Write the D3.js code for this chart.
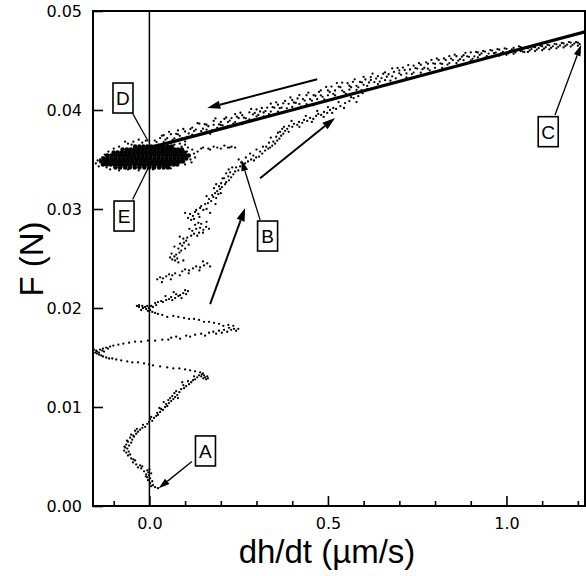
<!DOCTYPE html>
<html>
<head>
<meta charset="utf-8">
<script src="https://cdn.jsdelivr.net/npm/d3@7"></script>
<style>
  body { margin: 0; background: #fff; }
  svg { display: block; }
</style>
</head>
<body>
<svg id="chart" width="586" height="576"></svg>
<script>
// ---- measured trajectory: F (N) against dh/dt (um/s) ----

// rise from A, wandering around dh/dt = 0
const riseFromA = [
  [0.024,0.0018],[0.016,0.0019],[0.010,0.0021],[0.005,0.0020],[0.002,0.0023],[0.008,0.0025],[-0.004,0.0026],
  [0.002,0.0028],[-0.006,0.0029],[-0.001,0.0031],[-0.009,0.0032],[0.005,0.0033],[-0.015,0.0035],[-0.006,0.0036],
  [-0.010,0.0030],[-0.003,0.0034],[0.000,0.0037],[-0.020,0.0040],[-0.045,0.0047],[-0.058,0.0055],[-0.070,0.0060],
  [-0.023,0.0038],[-0.032,0.0039],[-0.026,0.0041],[-0.037,0.0042],[-0.046,0.0044],[-0.040,0.0046],[-0.051,0.0048],
  [-0.060,0.0051],[-0.054,0.0052],[-0.065,0.0054],[-0.071,0.0056],[-0.062,0.0058],[-0.068,0.0059],[-0.057,0.0061],
  [-0.065,0.0062],[-0.051,0.0064],[-0.060,0.0065],[-0.048,0.0067],[-0.054,0.0069],[-0.043,0.0070],[-0.051,0.0072],
  [-0.063,0.0066],[-0.045,0.0071],[-0.035,0.0078],
  [-0.037,0.0073],[-0.032,0.0075],[-0.040,0.0076],[-0.026,0.0077],[-0.020,0.0079],[-0.012,0.0080],[-0.018,0.0082],
  [-0.006,0.0083],[-0.001,0.0085],[0.008,0.0086],[0.002,0.0088],[0.013,0.0089],[0.019,0.0091],[0.024,0.0092],
  [0.005,0.0090],[0.028,0.0099],[0.040,0.0105],[0.058,0.0109],[0.080,0.0109],[0.092,0.0125],
  [0.022,0.0094],[0.030,0.0095],[0.038,0.0097],[0.033,0.0098],[0.044,0.0100],[0.050,0.0101],[0.047,0.0103],
  [0.055,0.0104],[0.061,0.0106],[0.053,0.0107],[0.067,0.0108],[0.072,0.0110],[0.064,0.0111],[0.078,0.0112],
  [0.070,0.0114],[0.084,0.0115],[0.075,0.0116],[0.089,0.0118],[0.097,0.0119],[0.103,0.0121],[0.095,0.0122],
  [0.111,0.0123],[0.117,0.0125],[0.108,0.0126],[0.122,0.0127],[0.128,0.0128],[0.134,0.0130],[0.125,0.0131],
  [0.139,0.0132],[0.145,0.0131],[0.151,0.0129],[0.156,0.0130],[0.153,0.0132],[0.162,0.0131],[0.159,0.0128],
  [0.164,0.0129],[0.147,0.0133],[0.150,0.0134]
];

// large swings left and right between F = 0.013 and 0.020
const oscillation = [
  [0.142,0.0135],[0.128,0.0136],[0.114,0.0137],[0.100,0.0138],[0.084,0.0139],[0.067,0.0139],[0.050,0.0140],
  [0.030,0.0141],[0.010,0.0142],[-0.001,0.0143],[-0.015,0.0144],[-0.032,0.0145],[-0.048,0.0145],[-0.062,0.0146],
  [-0.079,0.0147],[-0.093,0.0148],[-0.104,0.0149],[-0.113,0.0149],[-0.121,0.0150],[-0.130,0.0151],[-0.135,0.0152],
  [-0.141,0.0153],[-0.147,0.0154],[-0.152,0.0155],[-0.149,0.0157],[-0.155,0.0158],[-0.147,0.0156],[-0.141,0.0155],
  [-0.138,0.0158],[-0.132,0.0157],[-0.127,0.0156],[-0.130,0.0159],[-0.121,0.0160],[-0.116,0.0159],[-0.110,0.0161],
  [-0.101,0.0162],[-0.087,0.0163],[-0.073,0.0164],[-0.057,0.0165],[-0.040,0.0166],[-0.023,0.0166],[-0.004,0.0167],
  [0.016,0.0167],[0.036,0.0168],[0.053,0.0168],[0.061,0.0170],[0.075,0.0171],[0.086,0.0169],[0.103,0.0172],
  [0.114,0.0171],[0.128,0.0173],[0.145,0.0174],[0.156,0.0172],[0.167,0.0175],[0.179,0.0176],[0.187,0.0174],
  [0.195,0.0177],[0.203,0.0175],[0.209,0.0178],[0.218,0.0176],[0.223,0.0180],[0.229,0.0178],[0.237,0.0179],
  [0.243,0.0177],[0.249,0.0179],[0.235,0.0182],[0.221,0.0183],[0.207,0.0182],[0.195,0.0184],[0.181,0.0185],
  [0.167,0.0186],[0.153,0.0186],[0.139,0.0188],[0.125,0.0189],[0.111,0.0189],[0.097,0.0190],[0.081,0.0191],
  [0.067,0.0192],[0.050,0.0191],[0.036,0.0193],[0.024,0.0194],[0.016,0.0195],[0.008,0.0196],[0.002,0.0198],
  [-0.004,0.0197],[-0.009,0.0199],[-0.018,0.0200],[-0.023,0.0198],[-0.029,0.0201],[-0.035,0.0202],[-0.029,0.0203],
  [-0.020,0.0202],[-0.012,0.0201],[-0.006,0.0202],[-0.001,0.0200],[0.005,0.0202],[0.010,0.0201],[0.019,0.0203],
  [0.016,0.0205]
];

// climb through B towards the upper branch
const climbToB = [
  [0.024,0.0206],[0.033,0.0207],[0.038,0.0206],[0.047,0.0208],[0.055,0.0209],[0.064,0.0208],[0.061,0.0211],
  [0.072,0.0210],[0.081,0.0212],[0.075,0.0214],[0.086,0.0213],[0.095,0.0215],[0.103,0.0214],[0.108,0.0217],
  [0.100,0.0218],[0.022,0.0229],[0.030,0.0231],[0.038,0.0230],[0.047,0.0232],[0.055,0.0234],[0.064,0.0233],
  [0.072,0.0235],[0.092,0.0237],[0.100,0.0239],[0.111,0.0238],[0.122,0.0240],[0.131,0.0242],[0.142,0.0241],
  [0.153,0.0243],[0.162,0.0245],[0.081,0.0246],[0.072,0.0248],[0.064,0.0249],[0.058,0.0251],[0.070,0.0252],
  [0.078,0.0250],[0.075,0.0254],[0.084,0.0256],[0.089,0.0258],[0.081,0.0260],[0.092,0.0263],[0.086,0.0265],
  [0.097,0.0266],[0.103,0.0268],[0.095,0.0270],[0.106,0.0271],[0.117,0.0273],[0.125,0.0275],[0.134,0.0273],
  [0.139,0.0276],[0.120,0.0278],[0.131,0.0280],[0.142,0.0281],[0.151,0.0279],[0.159,0.0282],[0.167,0.0280],
  [0.128,0.0284],[0.137,0.0286],[0.145,0.0285],[0.117,0.0289],[0.108,0.0291],[0.122,0.0293],[0.114,0.0295],
  [0.128,0.0297],[0.137,0.0295],[0.131,0.0299],[0.142,0.0301],[0.151,0.0299],[0.145,0.0303],[0.156,0.0305],
  [0.164,0.0306],[0.173,0.0308],[0.167,0.0310],[0.179,0.0312],[0.187,0.0311],[0.176,0.0314],[0.184,0.0316],
  [0.193,0.0315],[0.190,0.0318],[0.198,0.0320],[0.181,0.0321],[0.195,0.0323],[0.203,0.0322],[0.212,0.0325],
  [0.201,0.0326],[0.215,0.0327],[0.223,0.0329],[0.209,0.0331],[0.221,0.0333],[0.229,0.0332],[0.235,0.0335],
  [0.226,0.0337],[0.240,0.0338],[0.249,0.0339],[0.243,0.0342],[0.254,0.0343],[0.263,0.0345],[0.257,0.0347],
  [0.268,0.0346],[0.276,0.0348],[0.285,0.0350],[0.293,0.0349],[0.299,0.0352],[0.291,0.0354],[0.307,0.0353],
  [0.316,0.0356],[0.310,0.0358],[0.324,0.0359],[0.333,0.0361],[0.327,0.0363],[0.338,0.0362],[0.344,0.0364],
  [0.352,0.0366],[0.347,0.0368],[0.358,0.0369],[0.364,0.0371],[0.355,0.0373],[0.369,0.0374],[0.375,0.0376],
  [0.366,0.0378],[0.380,0.0379],[0.386,0.0381],[0.377,0.0383],[0.391,0.0384],[0.400,0.0383],[0.405,0.0386],
  [0.414,0.0385],[0.419,0.0388],[0.428,0.0387],[0.433,0.0390],[0.442,0.0389],[0.450,0.0392],[0.459,0.0391],
  [0.467,0.0394],[0.473,0.0396],[0.481,0.0395],[0.489,0.0398],[0.498,0.0397],[0.506,0.0400],[0.515,0.0402],
  [0.523,0.0401],[0.535,0.0404],[0.548,0.0407],[0.560,0.0409],[0.572,0.0412],[0.585,0.0414],[0.597,0.0417]
];

// further scattered readings along the climb
const climbScatter = [
  [0.045,0.0212],[0.068,0.0216],[0.090,0.0210],[0.035,0.0226],[0.060,0.0229],[0.085,0.0233],[0.110,0.0235],
  [0.140,0.0238],[0.170,0.0242],[0.150,0.0247],[0.095,0.0248],[0.062,0.0255],[0.100,0.0260],[0.070,0.0262],
  [0.110,0.0264],[0.085,0.0272],[0.112,0.0280],[0.150,0.0276],[0.160,0.0287],[0.125,0.0290],[0.100,0.0296],
  [0.140,0.0292],[0.160,0.0300],[0.170,0.0296],[0.185,0.0305],[0.160,0.0313],[0.200,0.0316],[0.187,0.0325],
  [0.205,0.0331],[0.215,0.0336],[0.232,0.0342],[0.222,0.0340],[0.250,0.0350],[0.270,0.0352],[0.282,0.0356],
  [0.300,0.0360],[0.318,0.0363],[0.335,0.0367],[0.340,0.0372],[0.360,0.0377],[0.372,0.0381],[0.390,0.0378],
  [0.398,0.0389],[0.420,0.0383],[0.438,0.0394],[0.455,0.0388],[0.470,0.0399],[0.488,0.0393],[0.500,0.0403],
  [0.512,0.0397],[0.530,0.0408],[0.545,0.0402],[0.565,0.0413],[0.580,0.0408],[0.594,0.0420],[0.610,0.0421]
];

// upper branch between the plateau and C
const upperBranch = [
  [0.02,0.03676],[0.02,0.03616],[0.03,0.03716],[0.04,0.03675],[0.04,0.03745],[0.05,0.03715],[0.06,0.03665],
  [0.06,0.03755],[0.07,0.03714],[0.08,0.03794],[0.08,0.03754],[0.09,0.03713],[0.10,0.03783],[0.10,0.03683],
  [0.11,0.03763],[0.12,0.03822],[0.12,0.03752],[0.13,0.03802],[0.14,0.03752],[0.14,0.03862],[0.15,0.03811],
  [0.16,0.03851],[0.16,0.03801],[0.17,0.03760],[0.18,0.03850],[0.18,0.03890],[0.19,0.03820],[0.20,0.03879],
  [0.20,0.03849],[0.21,0.03909],[0.22,0.03838],[0.22,0.03878],[0.23,0.03918],[0.24,0.03878],[0.24,0.03958],
  [0.25,0.03917],[0.26,0.03857],[0.26,0.03947],[0.27,0.03916],[0.28,0.03976],[0.28,0.03906],[0.29,0.03956],
  [0.30,0.04005],[0.30,0.03935],[0.31,0.03985],[0.32,0.03935],[0.32,0.03975],[0.33,0.04024],[0.34,0.03984],
  [0.34,0.04064],[0.35,0.04023],[0.36,0.03983],[0.36,0.04053],[0.37,0.04023],[0.38,0.04092],[0.38,0.03982],
  [0.39,0.04062],[0.40,0.04031],[0.40,0.04101],[0.41,0.04071],[0.42,0.04151],[0.42,0.04061],[0.43,0.04110],
  [0.44,0.04060],[0.44,0.04150],[0.45,0.04109],[0.46,0.04149],[0.46,0.04049],[0.47,0.04109],[0.48,0.04198],
  [0.48,0.04148],[0.49,0.04108],[0.50,0.04198],[0.50,0.04148],[0.51,0.04237],[0.52,0.04147],[0.52,0.04197],
  [0.53,0.04236],[0.54,0.04196],[0.54,0.04276],[0.55,0.04166],[0.56,0.04245],[0.56,0.04205],[0.57,0.04285],
  [0.58,0.04244],[0.58,0.04204],[0.59,0.04284],[0.60,0.04334],[0.60,0.04254],[0.61,0.04243],[0.62,0.04303],
  [0.62,0.04333],[0.63,0.04282],[0.64,0.04262],[0.64,0.04342],[0.65,0.04322],[0.66,0.04381],[0.66,0.04301],
  [0.67,0.04361],[0.68,0.04340],[0.68,0.04420],[0.69,0.04320],[0.70,0.04400],[0.70,0.04370],[0.71,0.04429],
  [0.72,0.04369],[0.72,0.04329],[0.73,0.04409],[0.74,0.04448],[0.74,0.04378],[0.75,0.04418],[0.76,0.04377],
  [0.76,0.04457],[0.77,0.04427],[0.78,0.04467],[0.78,0.04417],[0.79,0.04506],[0.80,0.04466],[0.80,0.04426],
  [0.81,0.04505],[0.82,0.04465],[0.82,0.04425],[0.83,0.04505],[0.84,0.04544],[0.84,0.04474],[0.85,0.04504],
  [0.86,0.04473],[0.86,0.04543],[0.87,0.04513],[0.88,0.04553],[0.88,0.04503],[0.89,0.04542],[0.90,0.04502],
  [0.90,0.04582],[0.91,0.04541],[0.92,0.04581],[0.92,0.04531],[0.93,0.04571],[0.94,0.04530],[0.94,0.04590],
  [0.95,0.04570],[0.96,0.04600],[0.96,0.04540],[0.97,0.04579],[0.98,0.04609],[0.98,0.04549],[0.99,0.04588],
  [1.00,0.04618],[1.00,0.04558],[1.01,0.04598],[1.02,0.04567],[1.02,0.04627],[1.03,0.04607],[1.04,0.04596],
  [1.04,0.04636],[1.05,0.04586],[1.06,0.04626],[1.06,0.04586],[1.07,0.04615],[1.08,0.04595],[1.08,0.04635],
  [1.09,0.04624],[1.10,0.04604],[1.10,0.04644],[1.11,0.04634],[1.12,0.04613],[1.12,0.04653],[1.13,0.04643],
  [1.14,0.04623],[1.14,0.04663],[1.15,0.04652],[1.16,0.04632],[1.16,0.04672],[1.17,0.04661],[1.18,0.04641],
  [1.18,0.04681],[1.19,0.04671],[1.20,0.04650],[1.20,0.04680],[1.205,0.04665]
];

// interleaved readings on the same branch
const upperBranchFill = [
  [0.015,0.03691],[0.025,0.03651],[0.035,0.03741],[0.045,0.03700],[0.055,0.03780],[0.065,0.03699],[0.075,0.03759],
  [0.085,0.03739],[0.095,0.03808],[0.105,0.03728],[0.115,0.03808],[0.125,0.03787],[0.135,0.03867],[0.145,0.03786],
  [0.155,0.03856],[0.165,0.03836],[0.175,0.03795],[0.185,0.03915],[0.195,0.03854],[0.205,0.03844],[0.215,0.03924],
  [0.225,0.03893],[0.235,0.03863],[0.245,0.03932],[0.255,0.03972],[0.265,0.03922],[0.275,0.03891],[0.285,0.04011],
  [0.295,0.03970],[0.305,0.03950],[0.315,0.04020],[0.325,0.03989],[0.335,0.03959],[0.345,0.04029],[0.355,0.04078],
  [0.365,0.04018],[0.375,0.04067],[0.385,0.04017],[0.395,0.04127],[0.405,0.04076],[0.415,0.04116],[0.425,0.04035],
  [0.435,0.04095],[0.445,0.04175],[0.455,0.04094],[0.465,0.04144],[0.475,0.04183],[0.485,0.04133],[0.495,0.04233],
  [0.505,0.04182],[0.515,0.04162],[0.525,0.04272],[0.535,0.04231],[0.545,0.04181],[0.555,0.04270],[0.565,0.04230],
  [0.575,0.04310],[0.585,0.04229],[0.595,0.04279],[0.605,0.04308],[0.615,0.04278],[0.625,0.04368],[0.635,0.04317],
  [0.645,0.04287],[0.655,0.04366],[0.665,0.04336],[0.675,0.04296],[0.685,0.04385],[0.695,0.04425],[0.705,0.04355],
  [0.715,0.04404],[0.725,0.04454],[0.735,0.04363],[0.745,0.04423],[0.755,0.04473],[0.765,0.04412],[0.775,0.04482],
  [0.785,0.04401],[0.795,0.04471],[0.805,0.04521],[0.815,0.04470],[0.825,0.04520],[0.835,0.04459],[0.845,0.04519],
  [0.855,0.04559],[0.865,0.04498],[0.875,0.04538],[0.885,0.04578],[0.895,0.04537],[0.905,0.04517],[0.915,0.04586],
  [0.925,0.04556],[0.935,0.04596],[0.945,0.04545],[0.955,0.04605],[0.965,0.04574],[0.975,0.04614],[0.985,0.04574],
  [0.995,0.04623],[1.005,0.04573],[1.015,0.04613],[1.025,0.04582],[1.035,0.04642],[1.045,0.04591],[1.055,0.04631],
  [1.065,0.04601],[1.075,0.04640],[1.085,0.04610],[1.095,0.04650],[1.105,0.04619],[1.115,0.04659],[1.125,0.04628],
  [1.135,0.04668],[1.145,0.04638],[1.155,0.04677],[1.165,0.04647],[1.175,0.04686],[1.185,0.04656],[1.195,0.04686]
];

// dense plateau cloud between D and E
const plateauCore = [
  [-0.040,0.0363],[-0.028,0.0363],[-0.017,0.0363],[-0.006,0.0363],[0.006,0.0363],[0.017,0.0363],[0.029,0.0363],
  [0.040,0.0363],[0.052,0.0363],[0.063,0.0363],
  [-0.075,0.0360],[-0.063,0.0360],[-0.052,0.0360],[-0.041,0.0360],[-0.030,0.0360],[-0.019,0.0360],[-0.008,0.0360],
  [0.003,0.0360],[0.014,0.0360],[0.025,0.0360],[0.036,0.0360],[0.047,0.0360],[0.058,0.0360],[0.069,0.0360],
  [0.080,0.0360],[0.091,0.0360],
  [-0.100,0.0357],[-0.089,0.0357],[-0.078,0.0357],[-0.067,0.0357],[-0.056,0.0357],[-0.045,0.0357],[-0.034,0.0357],
  [-0.023,0.0357],[-0.012,0.0357],[-0.001,0.0357],[0.010,0.0357],[0.021,0.0357],[0.032,0.0357],[0.043,0.0357],
  [0.054,0.0357],[0.065,0.0357],[0.076,0.0357],[0.087,0.0357],[0.098,0.0357],
  [-0.118,0.0354],[-0.107,0.0354],[-0.096,0.0354],[-0.085,0.0354],[-0.074,0.0354],[-0.063,0.0354],[-0.052,0.0354],
  [-0.041,0.0354],[-0.030,0.0354],[-0.019,0.0354],[-0.008,0.0354],[0.003,0.0354],[0.014,0.0354],[0.025,0.0354],
  [0.036,0.0354],[0.047,0.0354],[0.058,0.0354],[0.069,0.0354],[0.080,0.0354],[0.091,0.0354],[0.102,0.0354],
  [0.110,0.0354],
  [-0.128,0.0351],[-0.117,0.0351],[-0.106,0.0351],[-0.095,0.0351],[-0.084,0.0351],[-0.073,0.0351],[-0.062,0.0351],
  [-0.051,0.0351],[-0.040,0.0351],[-0.029,0.0351],[-0.018,0.0351],[-0.007,0.0351],[0.004,0.0351],[0.015,0.0351],
  [0.026,0.0351],[0.037,0.0351],[0.048,0.0351],[0.059,0.0351],[0.070,0.0351],[0.081,0.0351],[0.092,0.0351],
  [0.103,0.0351],
  [-0.135,0.0348],[-0.124,0.0348],[-0.113,0.0348],[-0.102,0.0348],[-0.091,0.0348],[-0.080,0.0348],[-0.069,0.0348],
  [-0.058,0.0348],[-0.047,0.0348],[-0.036,0.0348],[-0.025,0.0348],[-0.014,0.0348],[-0.003,0.0348],[0.008,0.0348],
  [0.019,0.0348],[0.030,0.0348],[0.041,0.0348],[0.052,0.0348],[0.063,0.0348],[0.074,0.0348],[0.085,0.0348],
  [0.094,0.0348],
  [-0.130,0.0345],[-0.119,0.0345],[-0.108,0.0345],[-0.097,0.0345],[-0.086,0.0345],[-0.075,0.0345],[-0.064,0.0345],
  [-0.053,0.0345],[-0.042,0.0345],[-0.031,0.0345],[-0.020,0.0345],[-0.009,0.0345],[0.002,0.0345],[0.013,0.0345],
  [0.024,0.0345],[0.035,0.0345],[0.046,0.0345],[0.057,0.0345],[0.068,0.0345],[0.078,0.0345],
  [-0.095,0.0342],[-0.082,0.0342],[-0.068,0.0342],[-0.055,0.0342],[-0.041,0.0342],[-0.028,0.0342],[-0.014,0.0342],
  [0.000,0.0342],[0.013,0.0342],[0.027,0.0342],[0.040,0.0342],[0.052,0.0342]
];

// loose points around the plateau and its short trail to the right
const plateauHalo = [
  [-0.150,0.0346],[-0.142,0.0343],[-0.138,0.0350],[-0.110,0.0340],[-0.085,0.0339],[-0.060,0.0340],[-0.030,0.0339],
  [0.010,0.0340],[0.060,0.0341],[0.100,0.0345],[0.115,0.0350],[0.125,0.0356],[0.120,0.0360],[0.108,0.0362],
  [0.100,0.0365],[0.085,0.0366],[-0.060,0.0366],[-0.045,0.0368],[-0.030,0.0370],[-0.020,0.0367],[-0.085,0.0363],
  [-0.100,0.0361],[-0.115,0.0358],[-0.125,0.0355],[-0.132,0.0352],[0.135,0.0358],[0.145,0.0361],
  [0.150,0.0362],[0.165,0.0361],[0.170,0.0360],[0.180,0.0363],[0.190,0.0362],[0.200,0.0361],[0.210,0.0364],
  [0.220,0.0362],[0.225,0.0362],[0.230,0.0363],[0.240,0.0362],[-0.068,0.0368],[-0.050,0.0365],[-0.010,0.0369],
  [0.118,0.0347],[0.128,0.0352],[0.105,0.0358],[0.090,0.0363],[-0.145,0.0349],[-0.120,0.0342],[0.070,0.0365]
];

// straight line fitted to the upper branch
const fitLine = [[0.0, 0.03617], [1.22, 0.04789]];

// axis ticks
const xMajorTicks = [0.0, 0.5, 1.0];
const xMinorTicks = [-0.1, 0.1, 0.2, 0.3, 0.4, 0.6, 0.7, 0.8, 0.9, 1.1, 1.2];
const yTicks = [0.00, 0.01, 0.02, 0.03, 0.04, 0.05];

// direction-of-travel arrows: [from, to]
const flowArrows = [
  [[0.470, 0.0431], [0.162, 0.0402]],
  [[0.310, 0.0331], [0.520, 0.0392]],
  [[0.170, 0.0204], [0.268, 0.0301]]
];

// boxed point labels with their leader lines
const pointLabels = [
  { text: "A", at: [0.157, 0.00556], from: [0.119, 0.00449], to: [0.026, 0.00179], head: true },
  { text: "B", at: [0.331, 0.02727], from: [0.310, 0.0289],  to: [0.258, 0.03495], head: true },
  { text: "C", at: [1.117, 0.03781], from: [1.136, 0.0395],  to: [1.209, 0.04657], head: true },
  { text: "D", at: [-0.074, 0.04121], from: [-0.047, 0.03965], to: [-0.003, 0.03682], head: false },
  { text: "E", at: [-0.071, 0.02929], from: [-0.047, 0.03096], to: [-0.002, 0.03424], head: false }
];

// ---- drawing ----
const svg = d3.select("#chart");
const plotL = 93, plotR = 585, plotT = 11, plotB = 506;

const x = d3.scaleLinear().domain([-0.158, 1.22]).range([plotL, plotR]);
const y = d3.scaleLinear().domain([0, 0.05]).range([plotB, plotT]);

svg.append("defs").append("clipPath").attr("id", "plot-area")
  .append("rect").attr("x", plotL).attr("y", plotT)
  .attr("width", plotR - plotL).attr("height", plotB - plotT);

// zero line
svg.append("line")
  .attr("x1", x(0)).attr("x2", x(0)).attr("y1", plotT).attr("y2", plotB)
  .attr("stroke", "#000").attr("stroke-width", 1.5);

const plot = svg.append("g").attr("clip-path", "url(#plot-area)");

function scatter(data, r) {
  plot.append("g").selectAll("circle").data(data).join("circle")
    .attr("cx", d => x(d[0])).attr("cy", d => y(d[1]))
    .attr("r", r).attr("fill", "#000");
}
scatter(plateauCore, 2.3);
scatter(plateauHalo, 1.15);
scatter(riseFromA, 1.15);
scatter(oscillation, 1.15);
scatter(climbToB, 1.15);
scatter(climbScatter, 1.15);
scatter(upperBranch, 1.15);
scatter(upperBranchFill, 1.15);

plot.append("path")
  .datum(fitLine)
  .attr("d", d3.line().x(d => x(d[0])).y(d => y(d[1])))
  .attr("fill", "none").attr("stroke", "#000").attr("stroke-width", 3.2);

// arrows
function arrow(g, a, b, width, headLen, headHalf, withHead) {
  const x1 = x(a[0]), y1 = y(a[1]), x2 = x(b[0]), y2 = y(b[1]);
  const ang = Math.atan2(y2 - y1, x2 - x1);
  const bx = withHead ? x2 - headLen * Math.cos(ang) : x2;
  const by = withHead ? y2 - headLen * Math.sin(ang) : y2;
  g.append("line")
    .attr("x1", x1).attr("y1", y1).attr("x2", bx).attr("y2", by)
    .attr("stroke", "#000").attr("stroke-width", width);
  if (withHead) {
    const sx = headHalf * Math.sin(ang), sy = headHalf * Math.cos(ang);
    g.append("path")
      .attr("d", `M${x2},${y2}L${bx + sx},${by - sy}L${bx - sx},${by + sy}Z`)
      .attr("fill", "#000");
  }
}

const annot = svg.append("g");
flowArrows.forEach(([a, b]) => arrow(annot, a, b, 2, 13, 4.2, true));

pointLabels.forEach(l => {
  arrow(annot, l.from, l.to, 1.3, 11, 3.5, l.head);
  const cx = x(l.at[0]), cy = y(l.at[1]);
  annot.append("rect")
    .attr("x", cx - 10).attr("y", cy - 15).attr("width", 20).attr("height", 30)
    .attr("fill", "#fff").attr("stroke", "#000").attr("stroke-width", 1.6);
  annot.append("text")
    .attr("x", cx).attr("y", cy).attr("dy", "0.36em")
    .attr("text-anchor", "middle")
    .attr("font-family", "'Liberation Sans', Arial, sans-serif")
    .attr("font-size", 19)
    .text(l.text);
});

// frame
svg.append("rect")
  .attr("x", plotL).attr("y", plotT).attr("width", plotR - plotL).attr("height", plotB - plotT)
  .attr("fill", "none").attr("stroke", "#000").attr("stroke-width", 2);

// axes (ticks point inwards)
const tickFont = g => g.attr("font-family", "'DejaVu Sans', sans-serif").attr("font-size", 16);

svg.append("g").attr("transform", `translate(0,${plotB})`)
  .call(d3.axisBottom(x).tickValues(xMinorTicks).tickSize(-5).tickFormat(""))
  .call(g => g.select(".domain").remove())
  .call(g => g.selectAll("line").attr("stroke-width", 1.6));

svg.append("g").attr("transform", `translate(0,${plotB})`)
  .call(d3.axisBottom(x).tickValues(xMajorTicks).tickSize(-10).tickPadding(12).tickFormat(d3.format(".1f")))
  .call(g => g.select(".domain").remove())
  .call(g => g.selectAll("line").attr("stroke-width", 1.6))
  .call(tickFont)
  .call(g => g.selectAll("text").attr("fill", "#000"));

svg.append("g").attr("transform", `translate(${plotL},0)`)
  .call(d3.axisLeft(y).tickValues(yTicks).tickSize(-10).tickPadding(11).tickFormat(d3.format(".2f")))
  .call(g => g.select(".domain").remove())
  .call(g => g.selectAll("line").attr("stroke-width", 1.6))
  .call(tickFont)
  .call(g => g.selectAll("text").attr("fill", "#000"));

// axis titles
svg.append("text")
  .attr("x", 327).attr("y", 563)
  .attr("text-anchor", "middle")
  .attr("font-family", "'Liberation Sans', Arial, sans-serif")
  .attr("font-size", 33)
  .text("dh/dt (\u00b5m/s)");

svg.append("text")
  .attr("transform", "translate(43,259) rotate(-90)")
  .attr("text-anchor", "middle")
  .attr("font-family", "'Liberation Sans', Arial, sans-serif")
  .attr("font-size", 33)
  .text("F (N)");
</script>
</body>
</html>
